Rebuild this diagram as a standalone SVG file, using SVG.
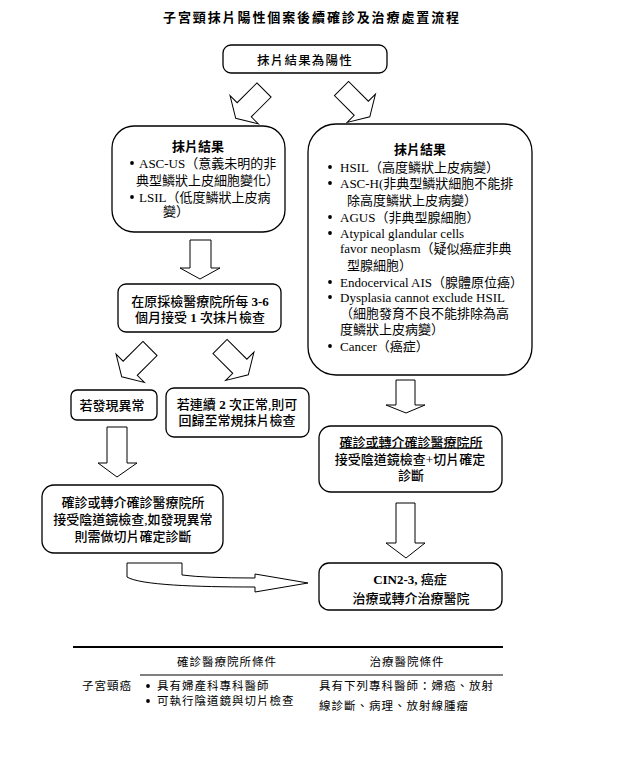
<svg xmlns="http://www.w3.org/2000/svg" width="623" height="780" viewBox="0 0 623 780">
<style>
text{font-family:"Liberation Serif","Noto Sans CJK TC",serif;fill:#000;font-size:13px}
.b{font-weight:bold}
.m{font-weight:500}
.c{text-anchor:middle}
.t{font-size:11.5px;letter-spacing:1px}
.box{fill:#fff;stroke:#000;stroke-width:1.3}
.arr{fill:#fff;stroke:#000;stroke-width:1}
.dot{fill:#000}
</style>
<defs>
<polygon id="da" points="-10,0 10,0 10,28 20,28 0,40 -20,28 -10,28"/>
</defs>
<rect width="623" height="780" fill="#fff"/>
<text x="312" y="22" class="b c" style="font-size:13px;letter-spacing:1.9px">子宮頸抹片陽性個案後續確診及治療處置流程</text>

<g id="connectors">
<use href="#da" class="arr" transform="translate(264,90) rotate(45)"/>
<use href="#da" class="arr" transform="translate(341.5,88.5) rotate(-45)"/>
<polygon class="arr" points="190,240 211,240 211,268 220,268 200,279 180,268 190,268"/>
<use href="#da" class="arr" transform="translate(150,348.5) rotate(45)"/>
<use href="#da" class="arr" transform="translate(220,346.5) rotate(-45)"/>
<polygon class="arr" points="107,427 127,427 127,463 137,463 117,477 98,463 107,463"/>
<polygon class="arr" points="396,380 415,380 415,405 425,405 406,413 386,405 396,405"/>
<polygon class="arr" points="396,503 415,503 415,543 425,543 406,558 386,543 396,543"/>
<path class="arr" d="M127,563 L182,563 L182,575 Q205,578 255,578 L255,574 L308,583 L255,592 L255,587 C195,587 140,585 127,577 Z"/>
</g>

<g id="n-positive">
<rect class="box" x="223" y="45" width="164" height="28" rx="8"/>
<text x="305" y="64.5" class="m c" style="font-size:12.5px;letter-spacing:1.2px">抹片結果為陽性</text>
</g>

<g id="n-low">
<rect class="box" x="112" y="126" width="173" height="106" rx="22"/>
<text x="198" y="150.5" class="b c">抹片結果</text>
<circle class="dot" cx="132" cy="163" r="1.9"/>
<text x="139" y="167.5">ASC-US（意義未明的非</text>
<text x="136" y="184.5">典型鱗狀上皮細胞變化）</text>
<circle class="dot" cx="132" cy="197" r="1.9"/>
<text x="139" y="201.5">LSIL（低度鱗狀上皮病</text>
<text x="163" y="216">變）</text>
</g>

<g id="n-high">
<rect class="box" x="308" y="124" width="224" height="251" rx="28"/>
<text x="420" y="153.5" class="b c">抹片結果</text>
<circle class="dot" cx="330" cy="167" r="1.9"/>
<text x="340" y="171.5">HSIL（高度鱗狀上皮病變）</text>
<circle class="dot" cx="330" cy="183" r="1.9"/>
<text x="340" y="187.5">ASC-H(非典型鱗狀細胞不能排</text>
<text x="347" y="204.5">除高度鱗狀上皮病變）</text>
<circle class="dot" cx="330" cy="217" r="1.9"/>
<text x="340" y="221.5">AGUS（非典型腺細胞）</text>
<circle class="dot" cx="330" cy="233" r="1.9"/>
<text x="340" y="237.5">Atypical glandular cells</text>
<text x="340" y="252.5">favor neoplasm（疑似癌症非典</text>
<text x="347" y="269.5">型腺細胞）</text>
<circle class="dot" cx="330" cy="282" r="1.9"/>
<text x="340" y="286.5">Endocervical AIS（腺體原位癌）</text>
<circle class="dot" cx="330" cy="297" r="1.9"/>
<text x="340" y="301.5">Dysplasia cannot exclude HSIL</text>
<text x="340" y="317.5">（細胞發育不良不能排除為高</text>
<text x="340" y="333.5">度鱗狀上皮病變）</text>
<circle class="dot" cx="330" cy="346" r="1.9"/>
<text x="340" y="350.5">Cancer（癌症）</text>
</g>

<g id="n-repeat">
<rect class="box" x="118" y="284" width="163" height="48" rx="8"/>
<text x="200" y="305.5" class="m c">在原採檢醫療院所每 <tspan class="b">3-6</tspan></text>
<text x="200" y="321.5" class="m c">個月接受 <tspan class="b">1</tspan> 次抹片檢查</text>
</g>

<g id="n-abnormal">
<rect class="box" x="71" y="390" width="86" height="30" rx="6"/>
<text x="112" y="409.5" class="m c">若發現異常</text>
</g>

<g id="n-normal">
<rect class="box" x="166" y="388" width="143" height="49" rx="8"/>
<text x="237" y="408.5" class="m c">若連續 <tspan class="b">2</tspan> 次正常,則可</text>
<text x="237" y="424.5" class="m c">回歸至常規抹片檢查</text>
</g>

<g id="n-colpo-left">
<rect class="box" x="42" y="485" width="181" height="68" rx="12"/>
<text x="133" y="506.5" class="m c">確診或轉介確診醫療院所</text>
<text x="133" y="523.5" class="m c">接受陰道鏡檢查,如發現異常</text>
<text x="133" y="540.5" class="m c">則需做切片確定診斷</text>
</g>

<g id="n-colpo-right">
<rect class="box" x="319" y="426" width="183" height="66" rx="12"/>
<text x="411" y="446.5" class="m c" style="text-decoration:underline">確診或轉介確診醫療院所</text>
<text x="410" y="463.5" class="m c">接受陰道鏡檢查+切片確定</text>
<text x="411" y="479.5" class="m c">診斷</text>
</g>

<g id="n-treat">
<rect class="box" x="319" y="563" width="183" height="47" rx="10"/>
<text x="410" y="583.5" class="b c">CIN2-3, <tspan class="m">癌症</tspan></text>
<text x="411" y="602.5" class="m c">治療或轉介治療醫院</text>
</g>

<g id="table">
<line x1="73" y1="647" x2="503" y2="647" stroke="#000" stroke-width="1.8"/>
<line x1="140" y1="675" x2="503" y2="675" stroke="#000" stroke-width="1"/>
<text x="227" y="666" class="t c">確診醫療院所條件</text>
<text x="407" y="666" class="t c">治療醫院條件</text>
<text x="82" y="690" class="t">子宮頸癌</text>
<circle class="dot" cx="148" cy="686" r="1.9"/>
<text x="157" y="690" class="t">具有婦產科專科醫師</text>
<circle class="dot" cx="148" cy="701" r="1.9"/>
<text x="157" y="705" class="t">可執行陰道鏡與切片檢查</text>
<text x="319" y="690" class="t">具有下列專科醫師：婦癌、放射</text>
<text x="319" y="710" class="t">線診斷、病理、放射線腫瘤</text>
</g>
</svg>
